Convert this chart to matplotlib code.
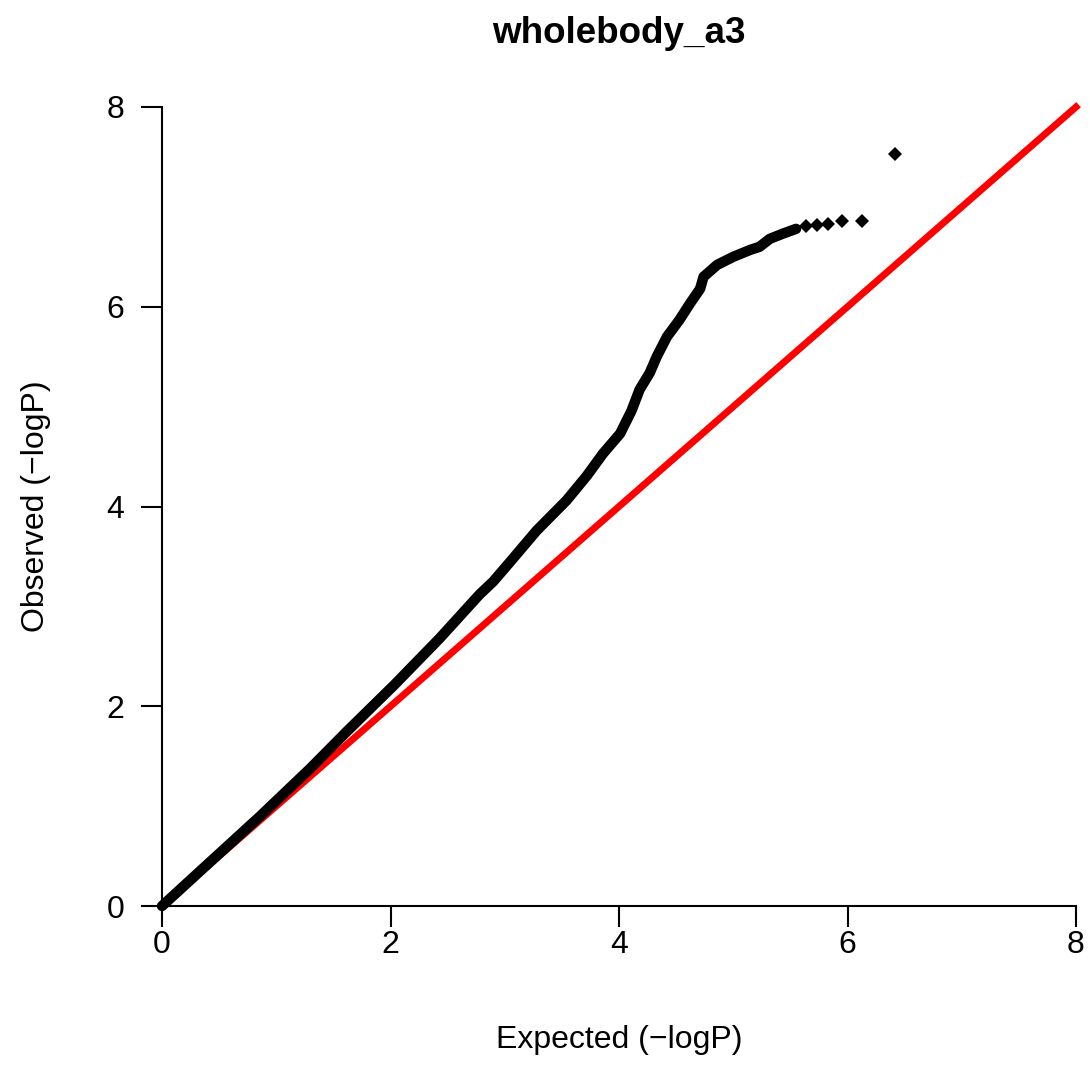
import matplotlib
matplotlib.use('Agg')
import matplotlib.pyplot as plt
import numpy as np

plt.rcParams['font.family'] = ['Liberation Sans', 'DejaVu Sans']

# QQ 曲线: 密集部分
expected_dense = [0.00, 0.42, 0.86, 1.30, 1.62, 2.03, 2.43, 2.78, 2.90, 3.05,
                  3.28, 3.54, 3.72, 3.86, 4.01, 4.11, 4.18, 4.27, 4.33, 4.42,
                  4.53, 4.62, 4.71, 4.72, 4.74, 4.86, 5.00, 5.15, 5.23, 5.32,
                  5.43, 5.55]
observed_dense = [0.00, 0.44, 0.90, 1.38, 1.75, 2.21, 2.68, 3.12, 3.25, 3.45,
                  3.76, 4.06, 4.31, 4.53, 4.73, 4.96, 5.17, 5.34, 5.50, 5.70,
                  5.87, 6.03, 6.18, 6.22, 6.30, 6.42, 6.50, 6.57, 6.60, 6.68,
                  6.73, 6.78]
# 尾部离散点
expected_tail = [5.64, 5.73, 5.83, 5.95, 6.13, 6.42]
observed_tail = [6.81, 6.82, 6.83, 6.86, 6.86, 7.53]

diag = [0, 8]
ticks = [0, 2, 4, 6, 8]
title = 'wholebody_a3'
xlabel = 'Expected (\u2212logP)'
ylabel = 'Observed (\u2212logP)'

W, H = 1090, 1068
fig = plt.figure(figsize=(W / 100, H / 100), dpi=100)
ax = fig.add_axes([162 / W, (H - 906) / H, 914 / W, 799 / H])

ax.plot(expected_dense, observed_dense, color='black', lw=7.5,
        solid_capstyle='round', solid_joinstyle='round', zorder=3, clip_on=False)
ax.plot(expected_tail, observed_tail, 'D', color='black', ms=7.5,
        markeredgewidth=0, zorder=3, clip_on=False)
ax.plot(diag, diag, color='#ff0000', lw=5, zorder=2, clip_on=False)

ax.set_xlim(0, 8)
ax.set_ylim(0, 8)
ax.set_xticks(ticks)
ax.set_yticks(ticks)
for s in ['top', 'right']:
    ax.spines[s].set_visible(False)
for s in ['left', 'bottom']:
    ax.spines[s].set_linewidth(1.5)
ax.tick_params(axis='both', direction='out', length=15, width=1.5,
               labelsize=23, colors='black')
ax.tick_params(axis='x', pad=2)
ax.tick_params(axis='y', pad=12)

ax.set_xlabel(xlabel, fontsize=23)
ax.xaxis.set_label_coords(0.5, (906 - 1040) / 799)
ax.xaxis.label.set_va('center')
ax.set_ylabel(ylabel, fontsize=23)
ax.yaxis.set_label_coords((36 - 162) / 914, 0.5)
ax.yaxis.label.set_va('center')

fig.text(619 / W, (H - 43) / H, title, ha='center', va='baseline',
         fontsize=26.5, fontweight='bold')

fig.savefig('out.png', dpi=100)
